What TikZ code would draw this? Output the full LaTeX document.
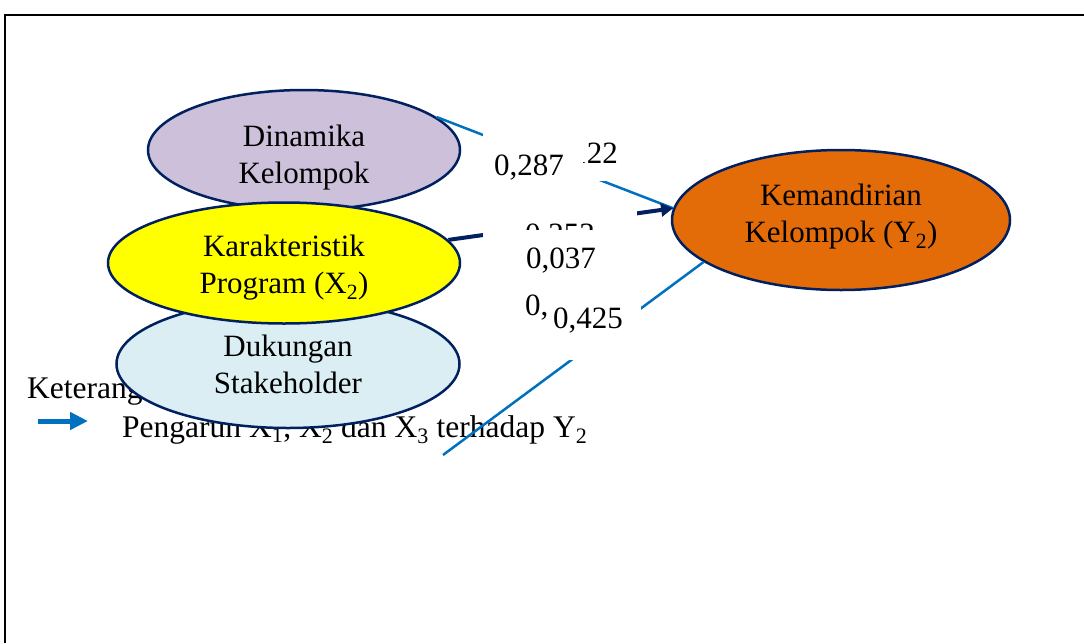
\documentclass[tikz,border=0pt]{standalone}
\usepackage{fontspec}
\setmainfont{Liberation Serif}
\usetikzlibrary{shapes.geometric,arrows.meta}

\definecolor{navyline}{RGB}{0,32,96}
\definecolor{biru}{RGB}{0,112,192}
\definecolor{ungu}{RGB}{204,192,218}
\definecolor{kuning}{RGB}{255,255,0}
\definecolor{birumuda}{RGB}{218,238,243}
\definecolor{oranye}{RGB}{227,108,9}

\tikzset{
  oval/.style={ellipse, draw=navyline, line width=2.5pt, inner sep=0pt, align=center,
    font=\fontsize{31}{37}\selectfont},
  koef/.style={fill=white, anchor=base, inner ysep=0pt, font=\fontsize{31}{37}\selectfont},
  pengaruh/.style={biru, line width=2.5pt},
}

\begin{document}
\begin{tikzpicture}[x=1pt,y=-1pt]
\useasboundingbox (0,0) rectangle (1084,643);

% Frame (only top and left edge show)
\draw[line width=2pt] (5,643) -- (5,15) -- (1084,15);

% Legend
\node[anchor=base west, inner sep=0pt, font=\fontsize{31.5}{38}\selectfont] (ket) at (27,398) {Keterangan};
\coordinate (lgA) at (38,421);
\coordinate (lgB) at (88,421);
\draw[biru, line width=5pt, -{Triangle[length=18pt,width=17pt]}] (lgA) -- (lgB);
\node[anchor=base west, inner sep=0pt, font=\fontsize{31.5}{38}\selectfont] (ketpengaruh) at (122,437)
  {Pengaruh X\textsubscript{1}, X\textsubscript{2} dan X\textsubscript{3} terhadap Y\textsubscript{2}};

% Variables
\node[oval, fill=birumuda, minimum width=343pt, minimum height=128pt] (dukungan) at (288,364) {Dukungan\\Stakeholder};
\node[oval, fill=ungu, minimum width=312pt, minimum height=120pt] (dinamika) at (304,150) {\rule{0pt}{37pt}Dinamika\\Kelompok};
\node[oval, fill=kuning, minimum width=352pt, minimum height=121pt] (karakteristik) at (284,263) {\rule{0pt}{31pt}Karakteristik\\Program (X\textsubscript{2})};
\node[oval, fill=oranye, minimum width=338pt, minimum height=140pt] (kemandirian) at (841,220) {Kemandirian\\Kelompok (Y\textsubscript{2})\rule[-13pt]{0pt}{1pt}};

% Paths to Y2
\coordinate (x3start) at (443,455);
\draw[pengaruh] (dinamika.14) -- (kemandirian.176);
\draw[pengaruh] (x3start) -- (kemandirian.197);
\draw[navyline, line width=4pt, -{Triangle[length=12pt,width=13pt]}] (karakteristik.8) -- (kemandirian.176);

% Coefficients (white boxes overlap each other)
\node[koef, inner xsep=65pt, text height=35pt, text depth=18pt] (k122) at (583,163) {0,122};
\node[koef, inner xsep=19pt, text height=34pt, text depth=20pt] (k287) at (529,175) {0,287};
\node[koef, inner xsep=42pt, text height=34pt, text depth=20pt] (k253) at (560,244) {0,253};
\node[koef, inner xsep=36pt, text height=38pt, text depth=20pt] (k037) at (561,268) {0,037};
\node[koef, inner xsep=14pt, text height=30pt, text depth=15pt] (k1) at (560,315) {0,120};
\node[koef, anchor=base west, inner xsep=3pt, text height=37pt, text depth=32pt] (k425) at (550,328) {0,425\hspace*{15pt}};

\end{tikzpicture}
\end{document}
